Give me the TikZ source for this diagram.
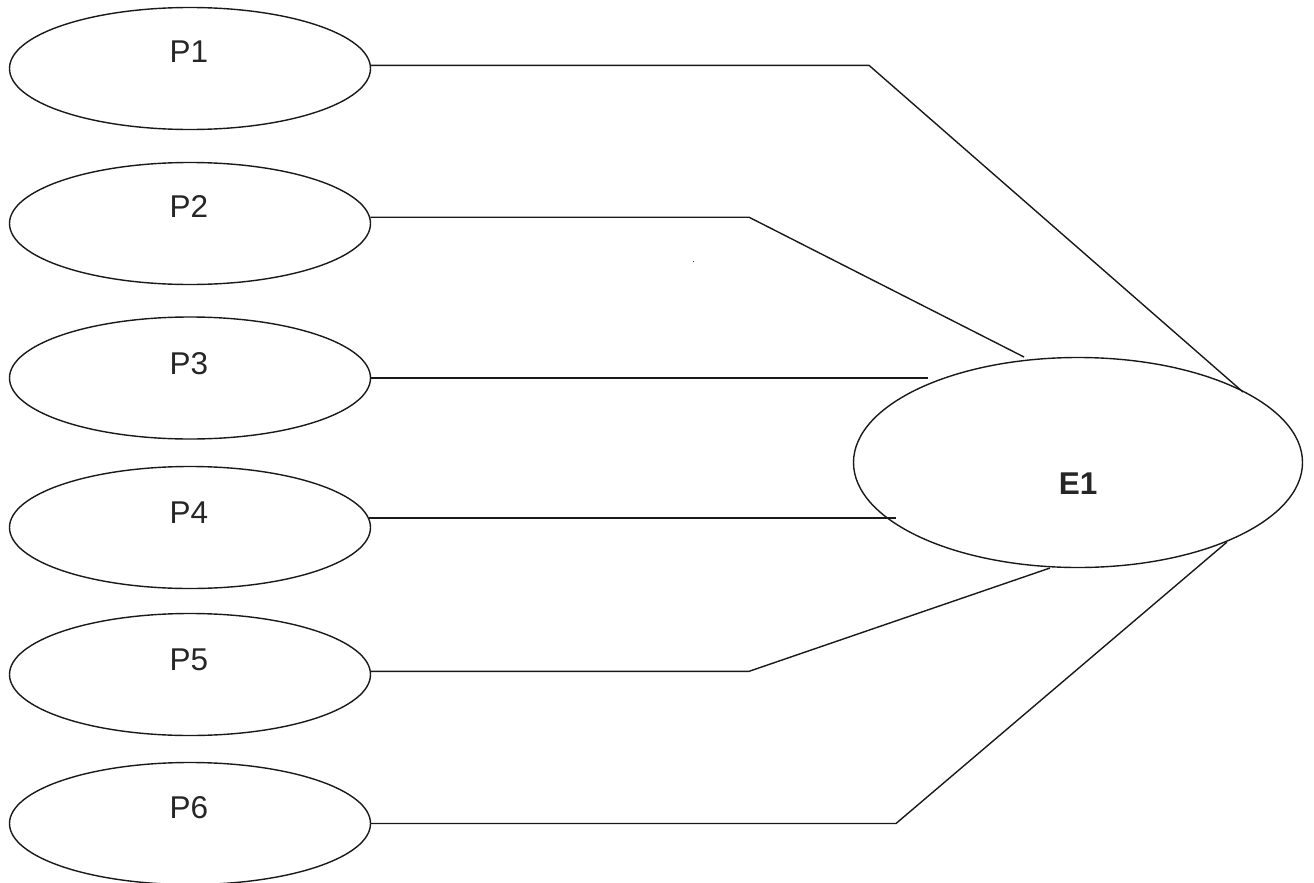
\documentclass[tikz,border=0pt]{standalone}
\usepackage{fontspec}
\setmainfont{Liberation Sans}
\usetikzlibrary{shapes.geometric}
\tikzset{
  pell/.style={draw=black!90, line width=1.4pt, ellipse, minimum width=361pt, minimum height=122pt, inner sep=0pt},
  eell/.style={draw=black!90, line width=1.4pt, ellipse, minimum width=449pt, minimum height=210pt, inner sep=0pt},
  lab/.style={inner sep=0pt, font=\fontsize{31.5}{36}\selectfont, text=black!85},
  conn/.style={draw=black!90, line width=1.4pt, line join=miter},
}
\begin{document}
\begin{tikzpicture}[x=1pt, y=-1pt]
\useasboundingbox (0,0) rectangle (1314,883);
% ellipses
\node[pell] (p1) at (190,68.5) {};
\node[pell] (p2) at (190,223.5) {};
\node[pell] (p3) at (190,378) {};
\node[pell] (p4) at (190,527.5) {};
\node[pell] (p5) at (190,674.5) {};
\node[pell] (p6) at (190,823.5) {};
\node[eell] (e1) at (1078,462.5) {};
% labels
\node[lab] (l1) at (189,52) {P1};
\node[lab] (l2) at (189,207) {P2};
\node[lab] (l3) at (189,364) {P3};
\node[lab] (l4) at (189,513) {P4};
\node[lab] (l5) at (189,660) {P5};
\node[lab] (l6) at (189,808) {P6};
\node[lab, font=\fontsize{31.5}{36}\selectfont\bfseries] (le) at (1078,484) {E1};
% connector points
\coordinate (k1) at (869,64);
\coordinate (t1) at (1243,392);
\coordinate (k2) at (749,218);
\coordinate (t2) at (1024,357);
\coordinate (t3) at (928,379);
\coordinate (t4) at (896,517);
\coordinate (k5) at (749,672);
\coordinate (t5) at (1050,568);
\coordinate (k6) at (896,822);
\coordinate (t6) at (1227,542);
% connectors
\draw[conn] (p1.1) -- (p1.1 -| k1) -- (t1);
\draw[conn] (p2.2) -- (p2.2 -| k2) -- (t2);
\draw[conn] (p3.east) -- (p3.east -| t3);
\draw[conn] (p4.3) -- (p4.3 -| t4);
\draw[conn] (p5.1) -- (p5.1 -| k5) -- (t5);
\draw[conn] (p6.east) -- (p6.east -| k6) -- (t6);
% stray dot
\fill[black!80] (692.5,260.5) rectangle ++(1.5,1.5);
\end{tikzpicture}
\end{document}
